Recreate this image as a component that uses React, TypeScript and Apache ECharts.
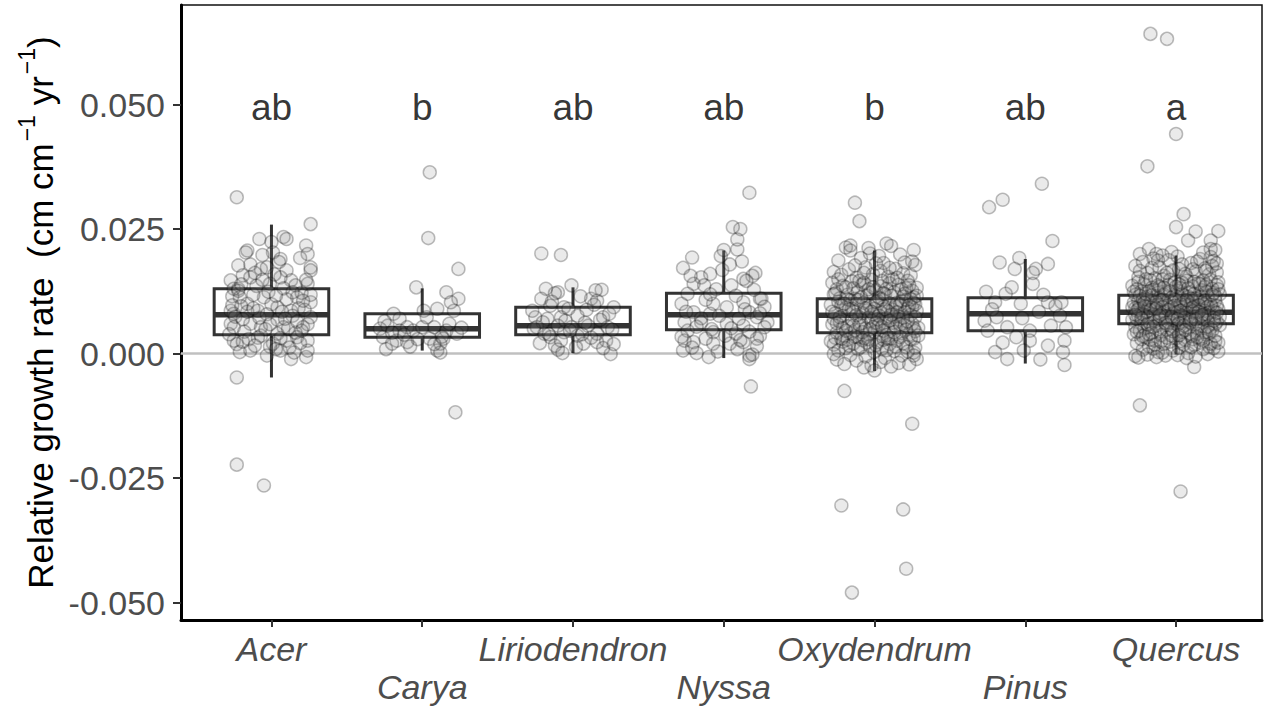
import React, { useEffect, useRef } from "react";
import * as echarts from "echarts";

// Species on the x axis, in plotting order
const species = ["Acer", "Carya", "Liriodendron", "Nyssa", "Oxydendrum", "Pinus", "Quercus"];
// Tukey-HSD group letters printed above each species
const groupLetters = ["ab", "b", "ab", "ab", "b", "ab", "a"];
const letterY = 0.05;

// Box statistics (relative growth rate, cm cm-1 yr-1)
const whiskerLow = [-0.0048, 0.0006, 0.0001, -0.0009, -0.0035, -0.002, -0.0002];
const q1Vals = [0.0038, 0.0033, 0.0038, 0.0048, 0.0042, 0.0046, 0.006];
const medianVals = [0.0078, 0.005, 0.0056, 0.0078, 0.0077, 0.008, 0.0083];
const q3Vals = [0.013, 0.008, 0.0093, 0.0121, 0.011, 0.0112, 0.0117];
const whiskerHigh = [0.0259, 0.0131, 0.0133, 0.0207, 0.0207, 0.019, 0.0197];

const yTicks = [-0.05, -0.025, 0, 0.025, 0.05];
const xTicks = [1, 2, 3, 4, 5, 6, 7];

// Individual trees: [jitter offset in hundredths of a category, growth rate in thousandths]
const acerPts = [
  [-23, 31.4], [26, 26.0], [-8, 23.0], [8, 23.4], [10, 23.0], [-16, 20.7], [-17, 20.3], [23, 21.7], [24, 20.0],
  [19, 19.2], [0, 22.4], [1, 20.3], [6, 19.0], [-22, 17.7], [26, 17.3], [26, 16.7], [10, 16.7], [-7, 17.0],
  [-3, 17.3], [-27, 14.7], [-19, 15.7], [-14, 15.3], [13, 14.7], [16, 13.7], [24, 14.0], [-25, 13.0], [-22, 13.0],
  [-1, 14.0], [6, 15.3], [26, 10.3], [-27, 8.6], [-25, 8.0], [-16, 10.0], [-9, 8.6], [4, 9.3], [13, 8.6],
  [17, 11.3], [-21, 11.3], [-5, 11.3], [26, 7.3], [21, 5.3], [-27, 6.0], [-25, 5.3], [-14, 6.0], [-7, 5.3],
  [8, 5.3], [-25, 2.6], [-23, 1.9], [-7, 3.6], [4, 4.0], [17, 3.3], [24, 2.6], [-21, 0.3], [-14, 0.6], [6, 0.6],
  [13, -1.1], [23, -0.7], [24, 0.6], [1, 2.0], [10, 2.6], [-23, -4.8], [-23, -22.3], [-5, -26.5],
  [-20, 9.5], [-12, 11.8], [-2, 12.4], [10, 10.9], [18, 9.1], [-26, 11.5], [-8, 7.2], [4, 6.8], [14, 7.6],
  [22, 8.8], [-18, 4.4], [-4, 4.9], [6, 3.1], [16, 4.2], [24, 5.9], [-15, 2.9], [-1, 1.4], [12, 1.2], [-24, 7.4],
  [-10, 13.6], [2, 15.9], [8, 13.1], [20, 12.2], [-14, 17.9], [5, 18.4], [-6, 19.8], [-22, 12.6], [26, 11.8],
  [-16, 8.4], [0, 9.9], [11, 5.0], [-9, 3.2], [19, 2.1], [-28, 3.9], [-3, -0.4], [15, 0.2], [-19, 6.9], [7, 8.4],
  [23, 14.8], [-11, 16.2],
  [-20, 13.9], [-6, 14.8], [3, 11.6], [14, 12.3], [21, 10.6], [-26, 9.7], [-12, 9.1], [-3, 7.9], [9, 7.0],
  [17, 6.4], [-19, 2.4], [-11, 1.6], [3, 0.9], [20, 4.6], [-1, 5.9],
];

const caryaPts = [
  [5, 36.4], [4, 23.2], [24, 17.0], [-4, 13.3], [16, 12.3], [24, 11.0], [10, 9.0], [1, 8.6], [21, 8.6],
  [-19, 8.0], [-15, 7.0], [-23, 5.6], [-28, 5.0], [-10, 5.3], [-6, 4.6], [8, 5.3], [16, 4.6], [23, 4.0],
  [-26, 3.3], [-17, 2.6], [-10, 2.3], [5, 3.0], [12, 2.0], [10, 0.6], [-24, 0.9], [-20, 2.0], [0, 5.3],
  [-15, 4.6], [14, 3.0], [19, 10.3], [22, -11.8], [12, 0.2], [-25, 6.5], [-12, 3.8], [3, 7.3], [18, 6.0],
  [-8, 1.4], [13, 3.4], [-20, 4.2], [8, 1.9], [-3, 2.9], [26, 5.2],
];

const liriodendronPts = [
  [-21, 20.1], [-8, 19.8], [-18, 13.0], [-1, 13.7], [19, 12.8], [-10, 12.3], [-21, 11.0], [12, 11.0], [16, 10.6],
  [27, 9.3], [-15, 9.6], [-6, 9.3], [-25, 7.3], [-17, 7.0], [-8, 7.3], [3, 7.6], [20, 7.3], [-24, 5.3],
  [-10, 5.6], [-1, 5.3], [10, 5.6], [23, 5.3], [-19, 4.0], [-15, 3.3], [3, 3.6], [16, 4.0], [22, 2.6],
  [-12, 1.6], [-7, 0.1], [7, 2.0], [25, -0.1], [16, 2.3], [-6, 4.3],
  [-27, 8.6], [-12, 12.1], [5, 11.5], [14, 9.8], [24, 8.0], [-20, 6.3], [-5, 6.6], [8, 6.2], [18, 6.8],
  [-16, 3.9], [-2, 4.6], [12, 3.2], [26, 4.8], [-22, 2.1], [-8, 2.6], [2, 1.3], [20, 1.1], [-14, 10.4],
  [9, 8.8], [-26, 5.0], [15, 12.7], [-10, 0.8], [27, 1.9], [-3, 9.0], [6, 3.9],
];

const nyssaPts = [
  [17, 32.3], [11, 25.0], [0, 20.8], [9, 20.9], [-21, 19.3], [-27, 17.2], [12, 18.5], [-1, 16.8], [-9, 16.0],
  [-15, 15.3], [21, 16.2], [19, 15.6], [13, 15.0], [-20, 14.0], [-13, 13.7], [5, 13.7], [-24, 12.0], [24, 11.0],
  [25, 11.0], [-28, 10.0], [-7, 10.0], [13, 10.3], [-20, 8.3], [-9, 8.0], [17, 8.3], [22, 7.3], [29, 6.3],
  [-26, 6.3], [-15, 6.3], [2, 6.0], [13, 5.6], [-24, 4.6], [-7, 4.3], [8, 4.0], [24, 3.6], [-26, 2.6],
  [-20, 2.3], [-7, 2.0], [13, 2.3], [22, 3.0], [-27, 0.6], [-18, 0.1], [-10, -0.7], [4, 2.0], [17, -0.4],
  [17, -1.1], [18, -6.6],
  [-22, 15.6], [-5, 12.9], [8, 11.6], [20, 12.8], [27, 9.4], [-12, 10.8], [2, 9.3], [14, 8.9], [-25, 8.4],
  [-15, 7.1], [-3, 7.6], [10, 7.0], [24, 8.1], [-18, 5.4], [-8, 4.9], [5, 5.1], [17, 4.4], [27, 5.3],
  [-28, 3.4], [-12, 3.0], [1, 3.6], [11, 2.7], [22, 1.5], [-21, 1.2], [-4, 0.4], [9, 0.9], [19, -0.2],
  [-9, 11.9], [15, 14.6], [4, 17.9], [-2, 19.6], [6, 25.4], [9, 22.9],
];

const oxydendrumPts = [
  [-27, 16.4], [-22, 15.8], [-17, 16.9], [-12, 15.2], [-6, 17.3], [-1, 15.9], [4, 16.6], [9, 15.4], [14, 17.0],
  [19, 16.1], [24, 15.7], [27, 17.8], [-24, 18.7], [-9, 19.2], [6, 18.2], [17, 19.9], [-19, 21.3], [11, 21.6],
  [-3, 20.1],
  [-28, 14.2], [-25, 12.9], [-21, 13.6], [-18, 11.8], [-15, 14.5], [-11, 12.4], [-8, 13.9], [-5, 11.6], [-2, 14.8],
  [1, 12.7], [4, 13.5], [7, 11.9], [10, 14.1], [13, 12.3], [16, 13.8], [19, 11.4], [22, 14.6], [25, 12.6],
  [28, 13.2], [-23, 11.1], [-13, 11.0], [-3, 12.2], [8, 13.0], [18, 12.9], [26, 11.3], [-27, 11.9], [12, 14.9],
  [-7, 14.2], [3, 11.2], [21, 13.1],
  [-29, 9.8], [-26, 8.1], [-24, 10.4], [-21, 7.6], [-19, 9.2], [-16, 10.7], [-14, 8.4], [-12, 9.9], [-10, 7.3],
  [-7, 10.2], [-5, 8.7], [-3, 9.5], [-1, 7.9], [2, 10.6], [4, 8.2], [6, 9.4], [8, 7.1], [10, 10.1], [12, 8.8],
  [14, 9.6], [16, 7.5], [18, 10.5], [20, 8.3], [22, 9.1], [24, 7.8], [26, 10.2], [28, 8.6], [-27, 7.0],
  [-18, 10.9], [-8, 8.1], [0, 9.0], [9, 8.5], [17, 9.9], [25, 9.3], [-22, 9.6], [-11, 10.8], [5, 10.9],
  [13, 7.4], [21, 10.8], [-4, 7.2], [27, 7.3], [-15, 9.0],
  [-28, 5.9], [-25, 4.2], [-23, 6.4], [-20, 3.6], [-18, 5.5], [-15, 6.8], [-13, 4.7], [-11, 3.3], [-9, 6.1],
  [-6, 5.0], [-4, 3.9], [-2, 6.6], [0, 4.4], [3, 5.8], [5, 3.5], [7, 6.3], [9, 4.9], [11, 3.1], [14, 5.4],
  [16, 6.9], [18, 4.1], [20, 5.7], [23, 3.8], [25, 6.0], [27, 4.5], [29, 5.2], [-26, 3.2], [-16, 4.0], [-7, 3.1],
  [2, 6.9], [12, 6.2], [21, 4.8], [-21, 5.1], [-1, 5.3], [8, 3.7], [17, 3.3], [26, 3.0], [-10, 5.9], [6, 4.6],
  [-27, 1.8], [-24, 0.6], [-21, 2.4], [-19, 1.1], [-16, -0.3], [-14, 2.0], [-11, 0.9], [-8, 2.7], [-6, -0.6],
  [-3, 1.5], [0, 0.3], [2, 2.3], [5, 1.0], [7, -0.9], [10, 1.9], [13, 0.5], [15, 2.6], [18, -0.4], [21, 1.3],
  [24, 2.9], [26, 0.2], [28, -1.1], [-25, -1.2], [-12, -1.4], [4, -1.7], [16, -1.9], [-2, -2.4], [11, -2.6],
  [23, -2.2], [-18, 2.8], [-5, 2.2], [8, 0.7],
  [-26, 12.1], [-20, 10.0], [-14, 13.1], [-9, 11.3], [-4, 12.9], [1, 10.4], [6, 12.1], [11, 11.6], [15, 10.2],
  [20, 12.0], [24, 10.9], [28, 11.6], [-28, 8.4], [-23, 7.3], [-17, 8.9], [-12, 7.7], [-6, 9.1], [-2, 8.4],
  [3, 7.6], [7, 8.9], [11, 7.8], [15, 8.3], [19, 7.2], [23, 9.7], [27, 9.9], [-25, 6.1], [-19, 4.6], [-14, 5.6],
  [-8, 4.3], [-3, 4.9], [1, 6.2], [5, 5.4], [10, 6.6], [13, 4.3], [17, 5.9], [22, 6.5], [26, 5.1], [29, 3.6],
  [-29, 2.5], [-22, 3.0], [-17, 1.6], [-13, 3.4], [-9, 1.3], [-4, 2.9], [1, 1.7], [6, 2.8], [9, 3.0], [14, 1.4],
  [19, 2.0], [22, 0.4], [27, 1.2], [-24, 14.9], [-19, 13.3], [-10, 14.6], [-1, 13.3], [5, 14.6], [15, 15.2],
  [23, 13.7], [-13, 17.7], [1, 18.1], [20, 18.3], [-7, 16.2], [10, 17.2],
  [-13, 30.3], [-10, 26.6], [-16, 21.7], [-16, 20.7], [-4, 21.2], [8, 22.1], [26, 20.8], [25, 18.5], [3, 19.6],
  [-20, -7.5], [-20, -2.1], [-7, -2.8], [0, -3.4], [26, -0.4], [-27, -0.1], [-22, -30.5], [19, -31.3],
  [-15, -48.0], [21, -43.2], [25, -14.1],
];

const pinusPts = [
  [11, 34.1], [-24, 29.4], [-15, 30.9], [18, 22.6], [-17, 18.3], [-4, 19.2], [15, 18.0], [-7, 17.0], [7, 17.0],
  [5, 16.2], [-9, 13.3], [-13, 12.0], [5, 14.0], [15, 10.3], [24, 10.3], [-20, 10.3], [-3, 10.0], [23, 7.6],
  [-27, 6.6], [-19, 7.3], [17, 5.6], [27, 5.3], [-25, 4.6], [-12, 5.3], [3, 4.6], [26, 2.6], [3, 2.6],
  [-6, 3.3], [15, 1.6], [-20, 0.3], [-12, -1.1], [-1, 0.6], [10, -1.2], [25, 0.3], [26, -2.3],
  [-22, 8.9], [9, 8.4], [-2, 7.1], [20, 9.6], [-15, 2.2], [12, 11.8], [-26, 12.4],
];

const quercusPts = [
  [-17, 64.2], [-6, 63.2], [0, 44.1], [-19, 37.6], [-24, -10.4], [3, -27.7], [12, -2.7], [5, 28.0], [0, 25.4],
  [13, 24.5], [28, 24.6], [8, 22.7], [23, 22.7], [23, 21.0], [23, 19.4], [-24, 20.0], [-18, 21.0], [-13, 20.0],
  [-27, 17.6], [-22, 18.4], [-19, 16.2], [-15, 19.1], [-11, 17.3], [-8, 15.6], [-5, 18.8], [-2, 16.7], [1, 19.5],
  [4, 17.9], [7, 15.4], [10, 18.2], [13, 16.5], [16, 19.0], [19, 17.1], [22, 15.9], [25, 18.6], [27, 16.3],
  [-25, 15.3], [-14, 15.1], [6, 16.0], [18, 20.3], [26, 20.8], [-3, 20.4], [-9, 19.7], [24, 17.6],
  [-29, 13.6], [-27, 11.8], [-25, 14.4], [-23, 12.5], [-21, 13.9], [-19, 11.3], [-17, 14.7], [-15, 12.8],
  [-13, 11.5], [-11, 13.4], [-9, 14.9], [-7, 12.1], [-5, 13.8], [-3, 11.2], [-1, 14.3], [1, 12.6], [3, 13.1],
  [5, 11.7], [7, 14.6], [9, 12.3], [11, 13.5], [13, 11.1], [15, 14.1], [17, 12.7], [19, 13.3], [21, 11.6],
  [23, 14.8], [25, 12.2], [27, 13.7], [29, 11.9], [-26, 12.9], [-20, 14.9], [-12, 12.2], [-4, 14.8], [4, 14.2],
  [12, 14.4], [20, 12.4], [28, 14.3], [-16, 13.2], [0, 11.5], [8, 11.4], [16, 11.3], [24, 13.0], [-8, 11.8],
  [-22, 11.0], [2, 13.9], [18, 14.7], [26, 11.5], [10, 11.0], [-18, 12.5],
  [-28, 10.2], [-26, 8.6], [-24, 9.7], [-22, 10.8], [-20, 8.3], [-18, 9.4], [-16, 10.5], [-14, 8.9], [-12, 9.9],
  [-10, 10.7], [-8, 8.5], [-6, 9.6], [-4, 10.3], [-2, 8.1], [0, 9.2], [2, 10.6], [4, 8.7], [6, 9.8], [8, 10.4],
  [10, 8.4], [12, 9.5], [14, 10.9], [16, 8.8], [18, 9.9], [20, 10.1], [22, 8.2], [24, 9.3], [26, 10.6],
  [28, 8.9], [-27, 9.1], [-23, 8.0], [-19, 10.9], [-15, 9.6], [-11, 8.2], [-7, 10.0], [-3, 9.4], [1, 8.4],
  [5, 10.2], [9, 9.0], [13, 8.1], [17, 10.3], [21, 9.4], [25, 8.5], [-25, 10.6], [-13, 10.3], [3, 9.9],
  [15, 9.7], [27, 9.6], [-9, 9.3], [11, 10.5], [-1, 10.8], [19, 8.6], [-21, 9.5], [7, 8.2],
  [-29, 6.8], [-27, 5.4], [-25, 7.6], [-23, 6.2], [-21, 5.1], [-19, 7.3], [-17, 6.0], [-15, 7.8], [-13, 5.6],
  [-11, 6.9], [-9, 5.2], [-7, 7.5], [-5, 6.3], [-3, 5.0], [-1, 7.1], [1, 5.8], [3, 7.7], [5, 6.5], [7, 5.3],
  [9, 7.0], [11, 5.9], [13, 7.4], [15, 6.1], [17, 5.5], [19, 7.9], [21, 6.6], [23, 5.2], [25, 7.2], [27, 6.4],
  [29, 5.7], [-26, 7.0], [-18, 5.3], [-10, 7.9], [-2, 6.7], [6, 7.2], [14, 5.1], [22, 7.6], [-14, 6.5],
  [2, 6.1], [18, 6.9], [-6, 5.7], [10, 6.8], [26, 5.9], [-22, 7.9],
  [-28, 3.9], [-26, 2.1], [-24, 4.6], [-22, 0.8], [-20, 3.3], [-18, 1.5], [-16, 4.2], [-14, 2.6], [-12, 0.3],
  [-10, 3.7], [-8, 1.9], [-6, 4.8], [-4, 2.4], [-2, 0.6], [0, 3.1], [2, 1.2], [4, 4.4], [6, 2.8], [8, 0.1],
  [10, 3.5], [12, 1.7], [14, 4.0], [16, 2.2], [18, 0.9], [20, 3.8], [22, 1.4], [24, 4.7], [26, 2.5], [28, 0.4],
  [-27, -0.5], [-23, 2.9], [-19, -0.2], [-15, 1.0], [-11, 4.5], [-7, -0.4], [-3, 3.6], [1, -0.3], [5, 1.8],
  [9, 4.1], [13, -0.6], [17, 3.0], [21, -0.1], [25, 1.1], [-25, -0.8], [-9, 0.2], [7, -0.9], [23, 2.0],
  [-17, 2.8], [3, 2.5], [-13, -0.7], [19, 4.3], [11, 2.9],
  [-28, 12.4], [-24, 11.6], [-20, 12.0], [-16, 11.7], [-12, 13.7], [-8, 13.2], [-4, 12.5], [0, 13.4], [4, 11.9],
  [8, 13.1], [12, 12.0], [16, 13.9], [20, 13.8], [24, 11.8], [28, 12.9], [-29, 9.3], [-25, 8.9], [-21, 10.2],
  [-17, 8.7], [-13, 9.1], [-9, 10.8], [-5, 8.8], [-1, 9.6], [3, 8.6], [7, 10.7], [11, 9.2], [15, 8.4], [19, 10.6],
  [23, 9.8], [27, 8.2], [-27, 7.8], [-23, 7.1], [-19, 5.9], [-15, 5.4], [-11, 7.6], [-7, 6.2], [-3, 7.4], [1, 6.9],
  [5, 5.6], [9, 6.3], [13, 6.9], [17, 7.7], [21, 5.4], [25, 6.6], [29, 7.4], [-26, 4.4], [-22, 3.5], [-18, 3.9],
  [-14, 1.8], [-10, 2.4], [-6, 3.2], [-2, 4.5], [2, 3.7], [6, 4.7], [10, 1.3], [14, 3.3], [18, 2.6], [22, 4.2],
  [26, 3.6], [28, 2.2], [-24, 16.6], [-16, 17.2], [-6, 16.2], [2, 17.0], [11, 16.9], [20, 16.6], [27, 18.1],
  [-12, 18.7], [14, 18.5],
];

const pointsBySpecies = [acerPts, caryaPts, liriodendronPts, nyssaPts, oxydendrumPts, pinusPts, quercusPts];

const X_MIN = 0.4;
const X_MAX = 7.57;
const Y_MIN = -0.0535;
const Y_MAX = 0.07;
const BOX_WIDTH = 0.76;

const FONT = "'Liberation Sans', Arial, Helvetica, sans-serif";

export default function App() {
  const ref = useRef<HTMLDivElement>(null);

  useEffect(() => {
    if (!ref.current) return;
    const chart = echarts.init(ref.current, null, { renderer: "svg" });

    const boxData = species.map((_, i) => [
      i + 1,
      whiskerLow[i],
      q1Vals[i],
      medianVals[i],
      q3Vals[i],
      whiskerHigh[i],
    ]);

    const jitterData: number[][] = [];
    pointsBySpecies.forEach((pts, i) => {
      pts.forEach(([dx, v]) => jitterData.push([i + 1 + dx / 100, v / 1000]));
    });

    const letterData = species.map((_, i) => [i + 1, letterY]);

    const option: any = {
      animation: false,
      backgroundColor: "#ffffff",
      textStyle: { fontFamily: FONT },
      grid: {
        left: 181,
        top: 5,
        width: 1081,
        height: 615,
        show: true,
        borderColor: "#111",
        borderWidth: 1.5,
        backgroundColor: "transparent",
      },
      xAxis: {
        type: "value",
        min: X_MIN,
        max: X_MAX,
        splitLine: { show: false },
        axisLine: { show: true, onZero: false, lineStyle: { color: "#000", width: 3 } },
        axisTick: { show: true, customValues: xTicks, length: 7, lineStyle: { color: "#333", width: 2 } },
        axisLabel: {
          show: true,
          customValues: xTicks,
          margin: 10,
          fontSize: 34,
          fontStyle: "italic",
          color: "#4d4d4d",
          lineHeight: 38,
          fontFamily: FONT,
          formatter: (v: number) => {
            const idx = Math.round(v) - 1;
            const name = species[idx] ?? "";
            return idx % 2 === 1 ? "\n" + name : name;
          },
        },
      },
      yAxis: {
        type: "value",
        min: Y_MIN,
        max: Y_MAX,
        splitLine: { show: false },
        axisLine: { show: true, onZero: false, lineStyle: { color: "#000", width: 3 } },
        axisTick: { show: true, customValues: yTicks, length: 8, lineStyle: { color: "#333", width: 2 } },
        axisLabel: {
          show: true,
          customValues: yTicks,
          margin: 16,
          fontSize: 34,
          color: "#4d4d4d",
          fontFamily: FONT,
          formatter: (v: number) => v.toFixed(3),
        },
        name: "{t|Relative growth rate  (cm cm}{s|−1}{t| yr}{s|−1}{t|)}",
        nameLocation: "middle",
        nameRotate: 90,
        nameGap: 122,
        nameTextStyle: {
          rich: {
            t: { fontSize: 35, color: "#000", fontFamily: FONT, lineHeight: 42, verticalAlign: "bottom" },
            s: { fontSize: 23, color: "#000", fontFamily: FONT, lineHeight: 42, verticalAlign: "top", padding: [0, 0, 0, 2] },
          },
        },
      },
      series: [
        {
          name: "zero",
          type: "line",
          data: [[X_MIN, 0], [X_MAX, 0]],
          symbol: "none",
          silent: true,
          z: 0,
          lineStyle: { color: "#c0c0c0", width: 2.5 },
        },
        {
          name: "boxes",
          type: "custom",
          z: 1,
          data: boxData,
          encode: { x: 0, y: [1, 2, 3, 4, 5] },
          renderItem: (_params: any, api: any) => {
            const x = api.value(0);
            const lo = api.coord([x, api.value(1)]);
            const q1 = api.coord([x, api.value(2)]);
            const md = api.coord([x, api.value(3)]);
            const q3 = api.coord([x, api.value(4)]);
            const hi = api.coord([x, api.value(5)]);
            const half = api.size([BOX_WIDTH, 0])[0] / 2;
            const stroke = "#333333";
            return {
              type: "group",
              children: [
                { type: "line", shape: { x1: hi[0], y1: hi[1], x2: q3[0], y2: q3[1] }, style: { stroke, lineWidth: 3 } },
                { type: "line", shape: { x1: q1[0], y1: q1[1], x2: lo[0], y2: lo[1] }, style: { stroke, lineWidth: 3 } },
                {
                  type: "rect",
                  shape: { x: q3[0] - half, y: q3[1], width: half * 2, height: q1[1] - q3[1] },
                  style: { fill: "#ffffff", stroke, lineWidth: 3 },
                },
                {
                  type: "line",
                  shape: { x1: md[0] - half, y1: md[1], x2: md[0] + half, y2: md[1] },
                  style: { stroke, lineWidth: 5.5 },
                },
              ],
            };
          },
        },
        {
          name: "trees",
          type: "scatter",
          z: 3,
          data: jitterData,
          symbol: "circle",
          symbolSize: 13,
          silent: true,
          itemStyle: {
            color: "rgba(127,127,127,0.2)",
            borderColor: "rgba(0,0,0,0.32)",
            borderWidth: 1.5,
          },
        },
        {
          name: "letters",
          type: "scatter",
          z: 4,
          data: letterData,
          symbolSize: 0,
          silent: true,
          label: {
            show: true,
            position: "inside",
            fontSize: 37,
            color: "#000",
            fontFamily: FONT,
            offset: [0, 3],
            formatter: (p: any) => groupLetters[p.dataIndex],
          },
        },
      ],
    };

    chart.setOption(option);
    return () => chart.dispose();
  }, []);

  return (
    <div
      ref={ref}
      style={{ position: "absolute", left: 0, top: 0, width: 1265, height: 707, background: "#fff" }}
    />
  );
}
